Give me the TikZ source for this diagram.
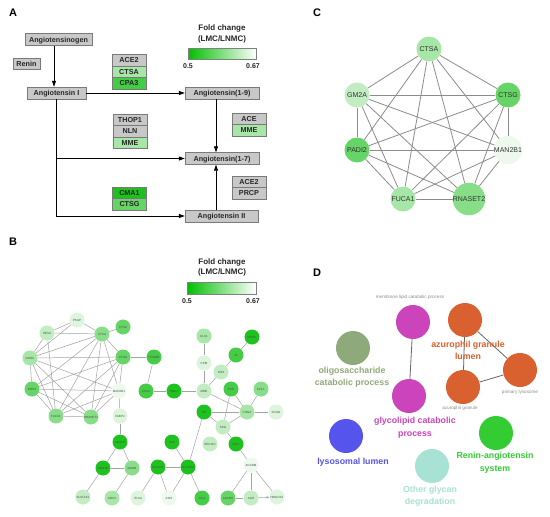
\documentclass[tikz,border=0pt]{standalone}
\usepackage{fontspec}
\setmainfont{Liberation Sans}
\usetikzlibrary{arrows.meta}
\definecolor{boxgray}{HTML}{C8C8C8}
\definecolor{boxedge}{HTML}{7A7A7A}
\definecolor{g0}{HTML}{EEF9EE}
\definecolor{g1}{HTML}{DDF4DD}
\definecolor{g2}{HTML}{C2ECC2}
\definecolor{g3}{HTML}{A6E6A6}
\definecolor{g4}{HTML}{88DD88}
\definecolor{g5}{HTML}{66D466}
\definecolor{g6}{HTML}{44CC44}
\definecolor{g7}{HTML}{1EC21E}
\definecolor{edgegray}{HTML}{8C8C8C}
\definecolor{magen}{HTML}{CC44BB}
\definecolor{orng}{HTML}{D9602F}
\definecolor{olive}{HTML}{8FAA7A}
\definecolor{bluec}{HTML}{5555EE}
\definecolor{aqua}{HTML}{A8E2D4}
\definecolor{rasg}{HTML}{33CC33}
\begin{document}
\begin{tikzpicture}[x=1pt,y=-1pt,
  panel/.style={font=\fontsize{11}{11}\selectfont\bfseries, anchor=center},
  gbox/.style={draw=boxedge, fill=boxgray, font=\fontsize{7.2}{8}\selectfont\bfseries, text=black!85, inner sep=0pt, minimum height=12pt, text height=5.2pt, text depth=0pt},
  sbox/.style={gbox, minimum width=34pt, minimum height=11.5pt},
  arr/.style={-{Triangle[length=6pt,width=4pt]}, line width=0.8pt},
  legt/.style={font=\fontsize{8}{9}\selectfont\bfseries, text=black!85},
  legn/.style={font=\fontsize{7}{8}\selectfont\bfseries, text=black!85},
  bnode/.style={circle, draw=none, minimum size=15pt, inner sep=0pt, font=\fontsize{3}{3}\selectfont, text=black!70},
  bedge/.style={draw=edgegray!80, line width=0.5pt},
  cnode/.style={circle, draw=none, minimum size=25pt, inner sep=0pt, font=\fontsize{7}{7}\selectfont, text=black!80},
  cedge/.style={draw=edgegray, line width=0.8pt},
  dcirc/.style={circle, draw=none, minimum size=34pt, inner sep=0pt},
  dlab/.style={font=\fontsize{8.8}{12.5}\selectfont\bfseries, align=center},
  dsmall/.style={font=\fontsize{4.6}{5}\selectfont, text=gray!90},
  dedge/.style={draw=gray!80!black, line width=0.8pt}]
\useasboundingbox (0,0) rectangle (550,517);
\fill[white] (0,0) rectangle (550,517);

% ---------------- Panel A ----------------
\node[panel] (pA) at (13,13) {A};
\node[gbox, minimum width=67pt] (angen) at (58.5,39.5) {Angiotensinogen};
\node[gbox, minimum width=27pt, minimum height=11pt] (renin) at (26.5,63.5) {Renin};
\node[gbox, minimum width=59pt] (angI) at (56.5,93) {Angiotensin I};
\node[gbox, minimum width=74pt] (a19) at (222,93) {Angiotensin(1-9)};
\node[gbox, minimum width=74pt] (a17) at (222,158.5) {Angiotensin(1-7)};
\node[gbox, minimum width=73pt] (a2) at (221.5,216) {Angiotensin II};

\node[sbox] (s1a) at (129,60) {ACE2};
\node[sbox, fill=g3] (s1b) at (129,71.5) {CTSA};
\node[sbox, fill=g6] (s1c) at (129,83) {CPA3};

\node[sbox] (s2a) at (130,119.5) {THOP1};
\node[sbox] (s2b) at (130,131) {NLN};
\node[sbox, fill=g3] (s2c) at (130,142.5) {MME};

\node[sbox] (s3a) at (249,118.5) {ACE};
\node[sbox, fill=g3] (s3b) at (249,130) {MME};

\node[sbox, fill=g7] (s4a) at (129.5,192.5) {CMA1};
\node[sbox, fill=g5] (s4b) at (129.5,204) {CTSG};

\node[sbox] (s5a) at (249,181.5) {ACE2};
\node[sbox] (s5b) at (249,193) {PRCP};

\coordinate (xa) at (54,0);
\coordinate (xb) at (216,0);
\draw[arr] (angen.south -| xa) -- (angI.north -| xa);
\draw[arr] (angI.east) -- (a19.west);
\draw[arr] (a19.south -| xb) -- (a17.north -| xb);
\draw[arr] (angI.south) |- (a2.west);
\draw[arr] (angI.south |- a17.west) -- (a17.west);
\draw[arr] (a2.north -| xb) -- (a17.south -| xb);

\node[legt] (lgA1) at (222,28) {Fold change};
\node[legt] (lgA2) at (222,39) {(LMC/LNMC)};
\shade[left color=green!75!black, right color=white, draw=gray] (188,48) rectangle (256,59);
\node[legn] (lgA3) at (188,66.5) {0.5};
\node[legn] (lgA4) at (253,66.5) {0.67};

% ---------------- Panel B ----------------
\node[panel] (pB) at (13,242) {B};
\node[legt] (lgB1) at (222,262) {Fold change};
\node[legt] (lgB2) at (222,272.5) {(LMC/LNMC)};
\shade[left color=green!75!black, right color=white, draw=gray] (187,282) rectangle (256,294);
\node[legn] (lgB3) at (187,301) {0.5};
\node[legn] (lgB4) at (253,301) {0.67};

\foreach \t/\x/\y/\c in {PSAP/77/320/g1, HEXA/47/333/g2, CTSA/102/334/g4, CTSZ/123/327/g5,
  GM2A/30/358/g3, CTSG/123/357/g5, TPSAB1/154/357/g6, PADI2/32/389/g5, MAN2B1/119/391/g0,
  CPA3/146/391/g6, FUCA1/56/416/g4, RNASET2/91/417/g4, FABP2/120/416/g1, ADH1C/120/442/g7,
  ADH1B/103/468/g7, MAOB/132/468/g4, SULT1A1/83/497/g2, AOC3/112/498/g3, ITLN1/138/498/g1,
  CMA1/174/391/g7, MME/204/391/g2, CPM/204/363/g1, KLK1/204/336/g3, MCEP/252/337/g7,
  SI/236/355/g6, RIF4/221/372/g2, CPE/231/389/g6, CHL1/261/389/g4, VIP/204/412/g7,
  CHGA/247/412/g3, SCGN/276/412/g1, SCG/223/427/g2, SEC11C/210/444/g2, IGF1/236/444/g7,
  CA2/172/442/g7, SLC4A1/158/467/g7, SLC26A3/188/467/g7, ACADM/251/465/g0, 2310/169/498/g0,
  CA4/202/498/g6, ACADS/228/498/g5, AUH/251/498/g2, HMGCS2/277/497/g1}
  \node[bnode, fill=\c] (b\t) at (\x,\y) {\t};

\foreach \u/\v in {PSAP/HEXA, PSAP/GM2A, PSAP/CTSA, HEXA/CTSA, HEXA/GM2A, HEXA/FUCA1,
  CTSA/CTSZ, CTSA/GM2A, CTSA/CTSG, CTSA/PADI2, CTSA/FUCA1, CTSA/RNASET2, CTSA/MAN2B1,
  GM2A/CTSG, GM2A/PADI2, GM2A/FUCA1, GM2A/RNASET2, GM2A/MAN2B1,
  CTSG/PADI2, CTSG/FUCA1, CTSG/RNASET2, CTSG/MAN2B1, CTSG/TPSAB1,
  PADI2/MAN2B1, PADI2/FUCA1, PADI2/RNASET2, FUCA1/RNASET2, FUCA1/MAN2B1, RNASET2/MAN2B1,
  MAN2B1/FABP2, FABP2/ADH1C, ADH1C/ADH1B, ADH1C/MAOB, ADH1B/MAOB, ADH1B/SULT1A1, MAOB/AOC3,
  TPSAB1/CPA3, CPA3/CMA1, CMA1/MME, MME/CPM, CPM/KLK1, MME/RIF4, RIF4/SI, SI/MCEP,
  MME/CHGA, VIP/CHGA, VIP/SCG, CPE/SCG, CPE/CHGA, CHL1/CHGA, CHGA/SCGN, SCG/CHGA, SCG/IGF1,
  IGF1/ACADM, VIP/SLC26A3, SLC4A1/SLC26A3, CA2/SLC26A3, SLC4A1/ITLN1, SLC4A1/2310,
  SLC26A3/2310, SLC26A3/CA4, ACADM/ACADS, ACADM/AUH, ACADM/HMGCS2, ACADS/AUH}
  \draw[bedge] (b\u) -- (b\v);
\draw[bedge, -{Stealth[length=3pt,width=2.5pt]}] (bAUH) -- (bHMGCS2);

% ---------------- Panel C ----------------
\node[panel] (pC) at (317,13) {C};
\node[cnode, fill=g3] (cCTSA) at (429,49) {CTSA};
\node[cnode, fill=g2] (cGM2A) at (357,95) {GM2A};
\node[cnode, fill=g5] (cCTSG) at (508,95) {CTSG};
\node[cnode, fill=g5] (cPADI2) at (357,150) {PADI2};
\node[cnode, fill=g0] (cMAN2B1) at (508,150) {MAN2B1};
\node[cnode, fill=g3] (cFUCA1) at (403,199) {FUCA1};
\node[cnode, fill=g4] (cRNASET2) at (469,199) {RNASET2};
\foreach \u/\v in {CTSA/GM2A, CTSA/CTSG, CTSA/PADI2, CTSA/MAN2B1, CTSA/FUCA1, CTSA/RNASET2,
  GM2A/CTSG, GM2A/PADI2, GM2A/MAN2B1, GM2A/FUCA1, GM2A/RNASET2,
  CTSG/PADI2, CTSG/MAN2B1, CTSG/FUCA1, CTSG/RNASET2,
  PADI2/MAN2B1, PADI2/FUCA1, PADI2/RNASET2,
  MAN2B1/FUCA1, MAN2B1/RNASET2, FUCA1/RNASET2}
  \draw[cedge] (c\u) -- (c\v);

% ---------------- Panel D ----------------
\node[panel] (pD) at (317,273) {D};
\node[dcirc, fill=magen] (dmem) at (413,322) {};
\node[dcirc, fill=orng] (dazl) at (465,320) {};
\node[dcirc, fill=orng] (dprim) at (520,370) {};
\node[dcirc, fill=orng] (dazg) at (463,387) {};
\node[dcirc, fill=olive] (doli) at (353,348) {};
\node[dcirc, fill=magen] (dgly) at (409,396) {};
\node[dcirc, fill=bluec] (dlys) at (346,436) {};
\node[dcirc, fill=aqua] (doth) at (432,466) {};
\node[dcirc, fill=rasg] (dras) at (496,433) {};
\draw[dedge] (dmem) -- (dgly);
\draw[dedge] (dazl) -- (dazg);
\draw[dedge] (dazl) -- (dprim);
\draw[dedge] (dprim) -- (dazg);
\node[dsmall] (tmem) at (410,297) {membrane lipid catabolic process};
\node[dsmall] (tprim) at (520,392) {primary lysosome};
\node[dsmall] (tazg) at (460,408) {azurophil granule};
\node[dlab, text=orng] (tazl) at (468,350.5) {azurophil granule\\lumen};
\node[dlab, text=olive] (toli) at (352,377) {oligosaccharide\\catabolic process};
\node[dlab, text=magen] (tgly) at (415,427.5) {glycolipid catabolic\\process};
\node[dlab, text=bluec] (tlys) at (353,462) {lysosomal lumen};
\node[dlab, text=aqua] (toth) at (430,496) {Other glycan\\degradation};
\node[dlab, text=rasg] (tras) at (495,462.5) {Renin-angiotensin\\system};
\end{tikzpicture}
\end{document}
